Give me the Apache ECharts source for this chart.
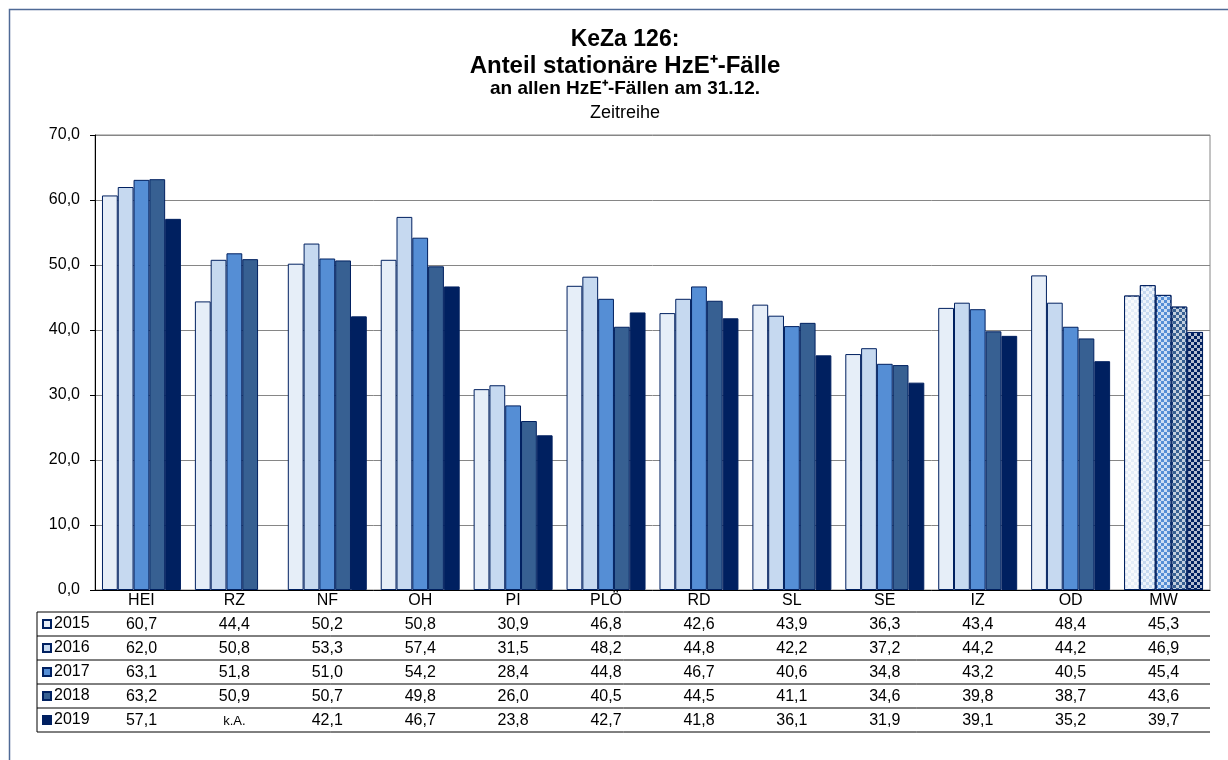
<!DOCTYPE html>
<html>
<head>
  <meta charset="utf-8" />
  <title>KeZa 126</title>
  <script src="https://cdn.jsdelivr.net/npm/echarts@6/dist/echarts.min.js"></script>
</head>
<style>
  body {
    margin: 0;
    padding: 0;
    overflow: hidden;
    background: #fff;
  }
</style>
<body>
  <div id="main" style="width: 1228px;height: 760px;"></div>
  <script type="text/javascript">
    // Kategorien (Kreise) und Jahre
    const categories = ['HEI', 'RZ', 'NF', 'OH', 'PI', 'PLÖ', 'RD', 'SL', 'SE', 'IZ', 'OD', 'MW'];
    const years = ['2015', '2016', '2017', '2018', '2019'];
    // Werte je Jahr (null = k.A.)
    const v2015 = [60.7, 44.4, 50.2, 50.8, 30.9, 46.8, 42.6, 43.9, 36.3, 43.4, 48.4, 45.3];
    const v2016 = [62.0, 50.8, 53.3, 57.4, 31.5, 48.2, 44.8, 42.2, 37.2, 44.2, 44.2, 46.9];
    const v2017 = [63.1, 51.8, 51.0, 54.2, 28.4, 44.8, 46.7, 40.6, 34.8, 43.2, 40.5, 45.4];
    const v2018 = [63.2, 50.9, 50.7, 49.8, 26.0, 40.5, 44.5, 41.1, 34.6, 39.8, 38.7, 43.6];
    const v2019 = [57.1, null, 42.1, 46.7, 23.8, 42.7, 41.8, 36.1, 31.9, 39.1, 35.2, 39.7];
    const values = [v2015, v2016, v2017, v2018, v2019];
    const colors = ['#e6eef8', '#c6d9f0', '#558ed5', '#376092', '#002060'];
    const titleLines = ['KeZa 126:', 'Anteil stationäre HzE\u207A-Fälle', 'an allen HzE\u207A-Fällen am 31.12.', 'Zeitreihe'];

    const FONT = 'Arial, "Liberation Sans", sans-serif';
    const grid = { left: 95, right: 18, top: 135, bottom: 170 };
    const W = 1228, H = 760;
    const plotL = grid.left, plotR = W - grid.right, plotB = H - grid.bottom;
    const colW = (plotR - plotL) / categories.length;
    const headH = 22, rowH = 24, tableL = 37;
    const fmt = v => v == null ? 'k.A.' : v.toFixed(1).replace('.', ',');

    const myChart = echarts.init(document.getElementById('main'), null, { renderer: 'canvas' });

    // Tabelle unter der Grafik
    function tableGraphics() {
      const els = [];
      const y0 = plotB + headH;
      for (let r = 0; r <= years.length; r++) {
        els.push({
          type: 'line', silent: true,
          shape: { x1: tableL, y1: y0 + r * rowH, x2: plotR, y2: y0 + r * rowH },
          style: { stroke: '#000', lineWidth: 1 }
        });
      }
      els.push({
        type: 'line', silent: true,
        shape: { x1: tableL, y1: y0, x2: tableL, y2: y0 + years.length * rowH },
        style: { stroke: '#000', lineWidth: 1 }
      });
      values.forEach((row, r) => {
        row.forEach((v, c) => {
          els.push({
            type: 'text', silent: true,
            x: plotL + colW * (c + 0.5),
            y: y0 + r * rowH + rowH / 2 + 1,
            style: {
              text: fmt(v), align: 'center', verticalAlign: 'middle',
              font: (v == null ? '13px ' : '16px ') + FONT, fill: '#000'
            }
          });
        });
      });
      // Rahmen um die ganze Grafik
      els.push({
        type: 'rect', silent: true,
        shape: { x: 9.5, y: 9.5, width: 1400, height: 1000 },
        style: { fill: null, stroke: '#4f6a96', lineWidth: 1.5 }
      });
      return els;
    }

    const mwDecal = {
      symbol: 'rect',
      symbolSize: 1,
      color: 'rgba(255,255,255,0.7)',
      dashArrayX: [[3, 3], [0, 3, 3, 0]],
      dashArrayY: [3, 0]
    };

    const series = years.map((y, i) => ({
      name: y,
      type: 'bar',
      barGap: 0,
      barCategoryGap: '15%',
      itemStyle: { color: colors[i], borderColor: '#002060', borderWidth: 1 },
      data: values[i].map((v, c) => categories[c] === 'MW'
        ? { value: v, itemStyle: { decal: mwDecal } }
        : v)
    }));

    const option = {
      animation: false,
      textStyle: { fontFamily: FONT },
      title: titleLines.map((t, i) => ({
        text: t,
        left: 625,
        top: [28, 54, 79, 104][i],
        textAlign: 'center',
        padding: 0,
        textStyle: {
          fontFamily: FONT,
          color: '#000',
          fontSize: [23, 24, 19, 18][i],
          fontWeight: i < 3 ? 'bold' : 'normal'
        }
      })),
      legend: {
        orient: 'vertical',
        left: 42,
        top: plotB + headH + 4,
        padding: 0,
        itemWidth: 8,
        itemHeight: 8,
        itemGap: 8,
        icon: 'rect',
        selectedMode: false,
        textStyle: { fontFamily: FONT, fontSize: 16, color: '#000', lineHeight: 16, padding: [0, 0, 0, -2] },
        data: years
      },
      grid: {
        left: grid.left, right: grid.right, top: grid.top, bottom: grid.bottom,
        show: true, borderColor: '#868686', borderWidth: 1
      },
      xAxis: {
        type: 'category',
        data: categories,
        axisLine: { lineStyle: { color: '#000', width: 1 } },
        axisTick: { length: headH + rowH * years.length, lineStyle: { color: '#000' } },
        axisLabel: { fontFamily: FONT, fontSize: 16, color: '#000', margin: 3 }
      },
      yAxis: {
        type: 'value',
        min: 0,
        max: 70,
        interval: 10,
        axisLine: { show: true, lineStyle: { color: '#000' } },
        axisTick: { show: true, length: 5, lineStyle: { color: '#000' } },
        axisLabel: {
          fontFamily: FONT, fontSize: 16, color: '#000', margin: 15,
          formatter: v => v.toFixed(1).replace('.', ',')
        },
        splitLine: { lineStyle: { color: '#868686', width: 1 } }
      },
      graphic: tableGraphics(),
      series: series
    };
    myChart.setOption(option);
  </script>
</body>
</html>
